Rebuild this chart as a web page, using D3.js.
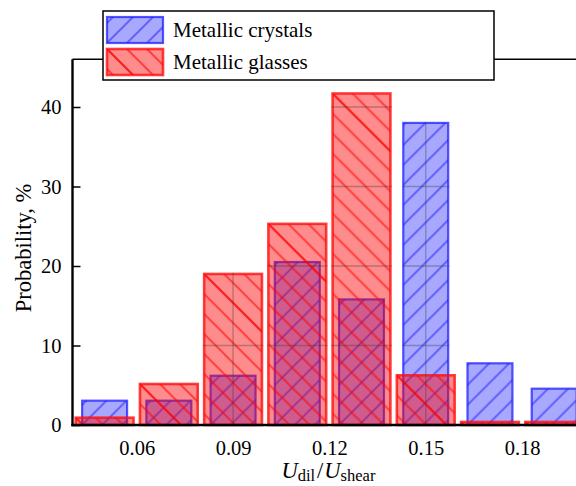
<!DOCTYPE html>
<html>
<head>
<meta charset="utf-8">
<script src="https://cdn.jsdelivr.net/npm/d3@7"></script>
<style>
  html, body { margin: 0; padding: 0; background: #fff; }
  svg { display: block; }
  text { font-family: "Liberation Serif", "Times New Roman", serif; fill: #000; }
</style>
</head>
<body>
<svg id="chart" width="576" height="486"></svg>
<script>
// Histogram bins (centres of 0.02-wide bins of U_dil / U_shear)
const categories = [0.05, 0.07, 0.09, 0.11, 0.13, 0.15, 0.17, 0.19];
// Probability, % per bin
const crystals = [3.06, 3.06, 6.2, 20.5, 15.8, 38.0, 7.76, 4.57];
const glasses  = [0.92, 5.16, 19.0, 25.3, 41.7, 6.25, 0.38, 0.38];
const xTicks = [0.06, 0.09, 0.12, 0.15, 0.18];
const yTicks = [0, 10, 20, 30, 40];
const seriesNames = ["Metallic crystals", "Metallic glasses"];

const svg = d3.select("#chart");
const x = d3.scaleLinear().domain([0.04, 0.20]).range([72.5, 586.3]);
const y = d3.scaleLinear().domain([0, 46]).range([425, 59.3]);

const defs = svg.append("defs");

// Styles for both series: fill, edge, hatch direction, bar width in data units
const styles = [
  { key: "crystals", values: crystals, fill: "rgba(0,0,255,0.34)", edge: "rgba(30,30,255,0.75)",
    hatch: "rgba(40,40,255,0.55)", dir: "/", width: 0.014, sw: 2.2 },
  { key: "glasses", values: glasses, fill: "rgba(255,0,0,0.45)", edge: "rgba(255,15,15,0.8)",
    hatch: "rgba(255,0,0,0.55)", dir: "\\", width: 0.018, sw: 2.6 }
];

let patId = 0;
function hatchPattern(st, ox, oy) {
  const id = "hatch" + (patId++);
  const p = defs.append("pattern")
    .attr("id", id)
    .attr("patternUnits", "userSpaceOnUse")
    .attr("x", ox).attr("y", oy)
    .attr("width", 20).attr("height", 20);
  const d = st.dir === "\\"
    ? "M-5,-5L25,25M-5,15L5,25M15,-5L25,5"
    : "M-5,25L25,-5M-5,5L5,-5M15,25L25,15";
  p.append("path").attr("d", d)
    .attr("stroke", st.hatch).attr("stroke-width", 2).attr("fill", "none");
  return id;
}

// Draw a hatched, translucent box (used for bars and legend swatches)
function hatchedBox(g, st, bx, by, bw, bh) {
  g.append("rect").attr("x", bx).attr("y", by).attr("width", bw).attr("height", bh)
    .attr("fill", st.fill);
  const id = hatchPattern(st, bx, st.dir === "\\" ? by : by + bh);
  g.append("rect").attr("x", bx).attr("y", by).attr("width", bw).attr("height", bh)
    .attr("fill", `url(#${id})`);
  if (st.dir === "\\") {
    const len = Math.min(bw, bh);
    g.append("line")
      .attr("x1", bx).attr("y1", by).attr("x2", bx + len).attr("y2", by + len)
      .attr("stroke", st.hatch).attr("stroke-width", 2);
  }
  g.append("rect").attr("x", bx).attr("y", by).attr("width", bw).attr("height", bh)
    .attr("fill", "none").attr("stroke", st.edge).attr("stroke-width", st.sw);
}

// Bars
const barsG = svg.append("g");
const clip = defs.append("clipPath").attr("id", "barClip");
styles.forEach(st => {
  categories.forEach((c, i) => {
    const x0 = x(c - st.width / 2), x1 = x(c + st.width / 2);
    const y0 = y(st.values[i]), y1 = y(0);
    hatchedBox(barsG, st, x0, y0, x1 - x0, y1 - y0);
    clip.append("rect")
      .attr("x", x0 - st.sw / 2).attr("y", y0 - st.sw / 2)
      .attr("width", x1 - x0 + st.sw).attr("height", y1 - y0 + st.sw / 2);
  });
});

// Grid lines, showing through the bars only
const grid = svg.append("g").attr("clip-path", "url(#barClip)")
  .attr("stroke", "rgba(60,60,60,0.35)").attr("stroke-width", 1.4);
xTicks.forEach(t => grid.append("line")
  .attr("x1", x(t)).attr("x2", x(t)).attr("y1", y(46)).attr("y2", y(0)));
yTicks.filter(t => t > 0).forEach(t => grid.append("line")
  .attr("x1", x(0.04)).attr("x2", x(0.20)).attr("y1", y(t)).attr("y2", y(t)));

// Axes
const yAxis = d3.axisLeft(y).tickValues(yTicks).tickSize(-8).tickPadding(11)
  .tickFormat(d3.format("d"));
const gy = svg.append("g").attr("transform", `translate(${x(0.04)},0)`).call(yAxis);
gy.select(".domain").remove();
gy.selectAll(".tick line").attr("stroke", "#000").attr("stroke-width", 1.5);
gy.selectAll(".tick text").style("font-family", '"Liberation Serif", serif')
  .style("font-size", "20.5px").attr("dy", "0.34em");

const xAxis = d3.axisBottom(x).tickValues(xTicks).tickSize(0).tickPadding(15.5)
  .tickFormat(d3.format(".2f"));
const gx = svg.append("g").attr("transform", `translate(0,${y(0)})`).call(xAxis);
gx.select(".domain").remove();
gx.selectAll(".tick text").style("font-family", '"Liberation Serif", serif')
  .style("font-size", "20.5px");

// Spines
svg.append("line").attr("x1", x(0.04)).attr("x2", x(0.20)).attr("y1", y(46)).attr("y2", y(46))
  .attr("stroke", "#000").attr("stroke-width", 1.6);
svg.append("line").attr("x1", x(0.04)).attr("x2", x(0.04)).attr("y1", y(46)).attr("y2", y(0) + 1.2)
  .attr("stroke", "#000").attr("stroke-width", 2.4);
svg.append("line").attr("x1", x(0.04) - 1.2).attr("x2", x(0.20)).attr("y1", y(0)).attr("y2", y(0))
  .attr("stroke", "#000").attr("stroke-width", 2.4);

// Axis titles
svg.append("text")
  .attr("transform", "translate(31,248) rotate(-90)")
  .attr("text-anchor", "middle")
  .style("font-size", "22.5px")
  .text("Probability, %");

const xl = svg.append("text")
  .attr("x", x(0.12) - 1).attr("y", 478)
  .attr("text-anchor", "middle")
  .style("font-size", "22.5px");
xl.append("tspan").style("font-style", "italic").text("U");
xl.append("tspan").attr("dy", 3).style("font-size", "16.5px").text("dil");
xl.append("tspan").attr("dy", -3).attr("dx", 2).text("/");
xl.append("tspan").attr("dx", 1).style("font-style", "italic").text("U");
xl.append("tspan").attr("dy", 3).style("font-size", "16.5px").text("shear");

// Legend
const lg = svg.append("g");
lg.append("rect").attr("x", 103).attr("y", 11).attr("width", 391).attr("height", 69)
  .attr("fill", "#fff").attr("stroke", "#000").attr("stroke-width", 1.5);
styles.forEach((st, i) => {
  const top = i === 0 ? 17 : 49;
  hatchedBox(lg, st, 107, top, 56, 26);
  lg.append("text").attr("x", 173).attr("y", top + 20)
    .style("font-size", "21px").text(seriesNames[i]);
});
</script>
</body>
</html>
